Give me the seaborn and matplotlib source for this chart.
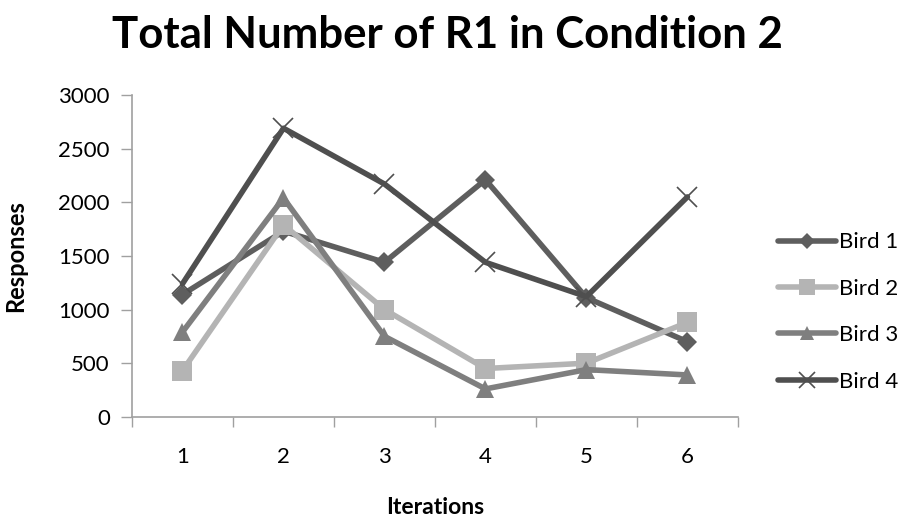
import numpy as np
import pandas as pd
import matplotlib
matplotlib.use("Agg")
import matplotlib.pyplot as plt
import seaborn as sns
from matplotlib.ticker import FixedLocator, NullFormatter

iterations = [1, 2, 3, 4, 5, 6]
bird1 = [1140, 1730, 1440, 2210, 1110, 700]
bird2 = [430, 1790, 1000, 450, 500, 880]
bird3 = [790, 2040, 750, 260, 440, 390]
bird4 = [1240, 2690, 2170, 1440, 1120, 2050]
series_names = ["Bird 1", "Bird 2", "Bird 3", "Bird 4"]
y_ticks = [0, 500, 1000, 1500, 2000, 2500, 3000]

df = pd.DataFrame({
    "Iterations": iterations * 4,
    "Responses": bird1 + bird2 + bird3 + bird4,
    "Bird": sum([[n] * len(iterations) for n in series_names], []),
})

sns.set_style("white")
plt.rcParams["font.family"] = ["Lato", "DejaVu Sans"]
plt.rcParams["text.color"] = "black"
plt.rcParams["axes.labelcolor"] = "black"
plt.rcParams["xtick.color"] = "black"
plt.rcParams["ytick.color"] = "black"

palette = {"Bird 1": "#5e5e5e", "Bird 2": "#b4b4b4", "Bird 3": "#7f7f7f", "Bird 4": "#4f4f4f"}
markers = {"Bird 1": "D", "Bird 2": "s", "Bird 3": "^", "Bird 4": "x"}
msizes = {"Bird 1": 10, "Bird 2": 15, "Bird 3": 13, "Bird 4": 15}

fig = plt.figure(figsize=(9.01, 5.21), dpi=100)
ax = fig.add_axes([0.1465, 0.2, 0.6725, 0.6177])

for name in series_names:
    sub = df[df["Bird"] == name]
    sns.lineplot(data=sub, x="Iterations", y="Responses", ax=ax,
                 color=palette[name], marker=markers[name],
                 markersize=msizes[name], linewidth=4,
                 markeredgewidth=1.2 if name == "Bird 4" else 0,
                 markeredgecolor=palette[name] if name == "Bird 4" else "none",
                 label=name)

ax.set_xlim(0.5, 6.5)
ax.set_ylim(0, 3000)
ax.set_yticks(y_ticks)
ax.set_yticklabels([str(v) for v in y_ticks])
ax.xaxis.set_major_locator(FixedLocator(np.arange(0.5, 6.6, 1.0)))
ax.xaxis.set_major_formatter(NullFormatter())
ax.xaxis.set_minor_locator(FixedLocator(iterations))
ax.set_xticklabels([str(i) for i in iterations], minor=True)
ax.tick_params(axis="x", which="major", length=7, width=1, color="#a0a0a0", direction="out", bottom=True)
ax.tick_params(axis="x", which="minor", length=0, pad=22, labelsize=16)
ax.tick_params(axis="y", which="major", length=8, width=1, color="#a0a0a0", direction="out", left=True, pad=8, labelsize=16)

for side in ["top", "right"]:
    ax.spines[side].set_visible(False)
for side in ["left", "bottom"]:
    ax.spines[side].set_color("#a0a0a0")
    ax.spines[side].set_linewidth(1.2)

ax.set_xlabel("Iterations", fontsize=16.5, fontweight="bold")
ax.xaxis.set_label_coords(0.5, -0.25)
ax.set_ylabel("Responses", fontsize=17, fontweight="bold")
ax.yaxis.set_label_coords(-0.173, 0.5)

fig.suptitle("Total Number of R1 in Condition 2", x=0.4965, y=0.972,
             fontsize=31.5, fontweight="bold")

leg = ax.legend(loc="center left", bbox_to_anchor=(778 / 901, 1 - 312 / 521),
                bbox_transform=fig.transFigure, frameon=False, borderpad=0,
                borderaxespad=0, fontsize=16, labelspacing=1.19,
                handlelength=2.6, handletextpad=0.15, markerscale=0.8)

fig.savefig("out.png", dpi=100)
